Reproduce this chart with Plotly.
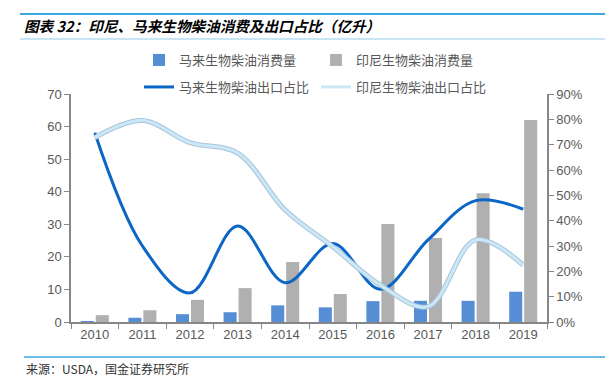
import plotly.graph_objects as go

years = ["2010", "2011", "2012", "2013", "2014", "2015", "2016", "2017", "2018", "2019"]
my_consumption = [0.3, 1.3, 2.4, 3.0, 5.1, 4.5, 6.4, 6.5, 6.5, 9.3]
id_consumption = [2.1, 3.6, 6.8, 10.4, 18.4, 8.6, 30.1, 25.8, 39.5, 62.0]
my_export_share = [0.747, 0.30, 0.115, 0.379, 0.155, 0.31, 0.129, 0.324, 0.479, 0.445]
id_export_share = [0.728, 0.795, 0.708, 0.667, 0.442, 0.297, 0.146, 0.061, 0.324, 0.225]

left_ticks = [0, 10, 20, 30, 40, 50, 60, 70]
right_ticks = [0, 0.1, 0.2, 0.3, 0.4, 0.5, 0.6, 0.7, 0.8, 0.9]

FONT = "Liberation Sans, Noto Sans CJK SC, sans-serif"
GRAY_TXT = "#595959"

# page has an 8px body margin: figure coords = page coords - 8
OFF = 8
W, H = 613 - OFF, 384 - OFF
L, R, T, B = 71 - OFF, 547 - OFF, 94 - OFF, 322 - OFF


def px_x(x_page):
    return (x_page - OFF - L) / (R - L)


def px_y(y_page):
    return (B - (y_page - OFF)) / (B - T)


fig = go.Figure()
fig.add_trace(go.Bar(x=years, y=my_consumption, name="马来生物柴油消费量", legend="legend",
                     marker=dict(color="#558ed5", line=dict(width=0)), yaxis="y"))
fig.add_trace(go.Bar(x=years, y=id_consumption, name="印尼生物柴油消费量", legend="legend",
                     marker=dict(color="#b0b0b0", line=dict(width=0)), yaxis="y"))
fig.add_trace(go.Scatter(x=years, y=my_export_share, name="马来生物柴油出口占比", legend="legend2",
                         mode="lines", line=dict(color="#0b66c6", width=3, shape="spline", smoothing=1.0),
                         yaxis="y2"))
fig.add_trace(go.Scatter(x=years, y=id_export_share, name="印尼生物柴油出口占比", showlegend=False,
                         mode="lines", line=dict(color="#a9c4d8", width=5, shape="spline", smoothing=1.0),
                         yaxis="y2", hoverinfo="skip"))
fig.add_trace(go.Scatter(x=years, y=id_export_share, name="印尼生物柴油出口占比", legend="legend2",
                         mode="lines", line=dict(color="#cbe8f8", width=3, shape="spline", smoothing=1.0),
                         yaxis="y2"))

leg_common = dict(orientation="h", xref="container", yref="container", xanchor="left", yanchor="middle",
                  entrywidth=132, traceorder="normal",
                  font=dict(family="Noto Sans CJK SC", size=13, color=GRAY_TXT),
                  bgcolor="rgba(0,0,0,0)", itemclick=False)

fig.update_layout(
    width=W, height=H,
    margin=dict(l=L, r=W - R, t=T, b=H - B, pad=0, autoexpand=False),
    paper_bgcolor="white", plot_bgcolor="white",
    barmode="group", bargap=0.37, bargroupgap=0.13,
    font=dict(family=FONT, size=13, color=GRAY_TXT),
    showlegend=True,
    legend=dict(leg_common, x=(139 - OFF) / W, y=1 - (60 - OFF) / H),
    legend2=dict(leg_common, x=(139 - OFF) / W, y=1 - (87 - OFF) / H),
    xaxis=dict(showline=True, linecolor="#868686", linewidth=1.5, ticks="outside", ticklen=5,
               tickcolor="#868686", tickson="boundaries", showgrid=False, zeroline=False,
               tickfont=dict(size=13, color=GRAY_TXT)),
    yaxis=dict(range=[0, 70], tickvals=left_ticks, showline=True, linecolor="#868686", linewidth=1.5,
               ticks="outside", ticklen=5, tickcolor="#868686", showgrid=False, zeroline=False,
               tickfont=dict(size=13, color=GRAY_TXT)),
    yaxis2=dict(range=[0, 0.9], tickvals=right_ticks, tickformat=".0%", overlaying="y", side="right",
                showline=True, linecolor="#868686", linewidth=1.5, ticks="outside", ticklen=5,
                tickcolor="#868686", showgrid=False, zeroline=False,
                tickfont=dict(size=13, color=GRAY_TXT)),
    shapes=[
        dict(type="line", xref="paper", yref="paper", x0=px_x(20), x1=px_x(613), y0=px_y(14), y1=px_y(14),
             line=dict(color="#3aa9e0", width=2)),
        dict(type="line", xref="paper", yref="paper", x0=px_x(20), x1=px_x(613), y0=px_y(39), y1=px_y(39),
             line=dict(color="#8fcbee", width=1)),
        dict(type="line", xref="paper", yref="paper", x0=px_x(24), x1=px_x(613), y0=px_y(357), y1=px_y(357),
             line=dict(color="#3aa9e0", width=1.5)),
    ],
)

fig.add_annotation(text="<b><i>图表 32：印尼、马来生物柴油消费及出口占比（亿升）</i></b>",
                   xref="paper", yref="paper", x=px_x(22), y=px_y(26), xanchor="left", yanchor="middle",
                   showarrow=False, font=dict(family="Noto Sans CJK SC", size=14.6, color="#000000"))
fig.add_annotation(text="来源：USDA，国金证券研究所",
                   xref="paper", yref="paper", x=px_x(24), y=px_y(368), xanchor="left", yanchor="middle",
                   showarrow=False, font=dict(family="Noto Sans CJK SC", size=12, color="#333333"))

fig.write_html("out.html")
